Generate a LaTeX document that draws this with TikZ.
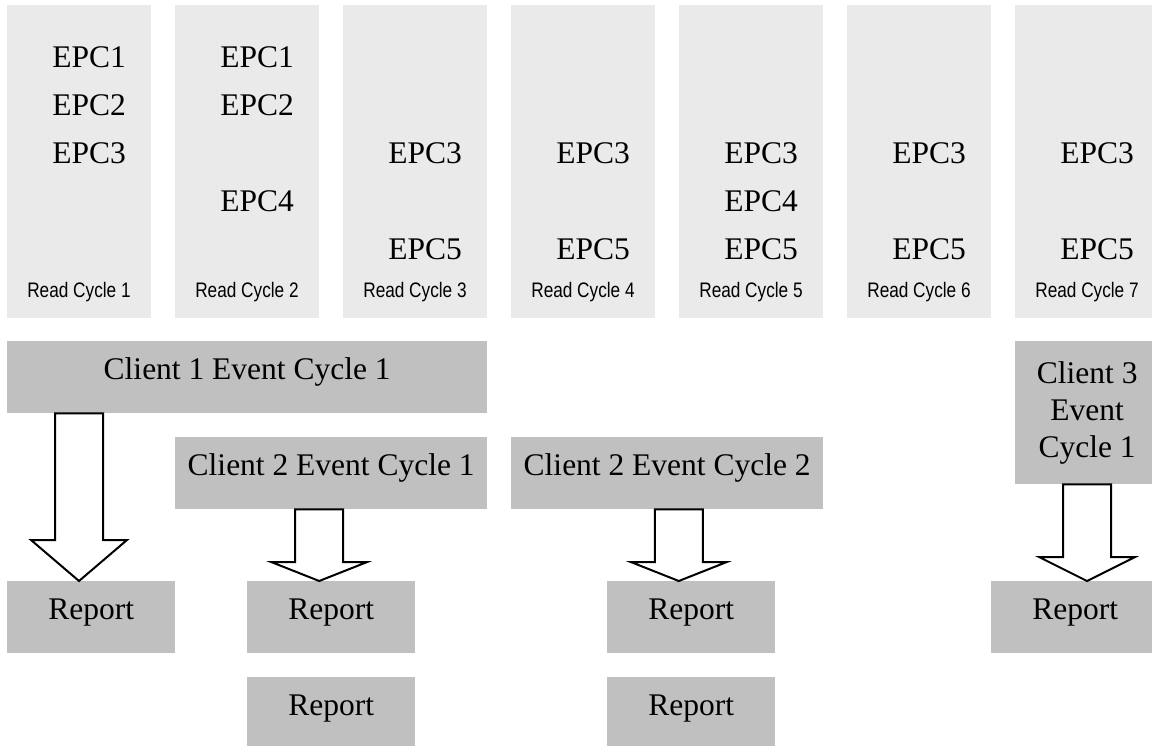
\documentclass[tikz,border=0pt]{standalone}
\usepackage{fontspec}
\setmainfont{Liberation Serif}
\newfontfamily\narrowsans[FakeStretch=0.82]{Liberation Sans}
\usetikzlibrary{calc,positioning}
\definecolor{RfidLight}{RGB}{234,234,234}
\definecolor{RfidGray}{RGB}{192,192,192}
\newcommand{\tagfont}{\fontsize{31.5}{37}\selectfont}
\newcommand{\cyclefont}{\narrowsans\fontsize{21}{25}\selectfont}
\tikzset{
  rfid/col/.style={
    fill=RfidLight,
    draw=none,
    minimum width=144pt,
    minimum height=313pt,
    inner sep=0pt
  },
  rfid/tag/.style={anchor=base east, inner sep=0pt, font=\tagfont},
  rfid/cycle/.style={anchor=base, inner sep=0pt, font=\cyclefont},
  rfid/box/.style={
    fill=RfidGray,
    anchor=north west,
    inner sep=0pt,
    text height=38pt,
    text depth=34pt,
    font=\tagfont
  },
  rfid/tallbox/.style={
    fill=RfidGray,
    anchor=north west,
    inner sep=0pt,
    minimum width=144pt,
    minimum height=143pt,
    align=center,
    font=\tagfont
  },
  rfid/fat/.style={draw=black, fill=white, line width=2pt, line join=miter}
}
% hollow block arrow: column ref, source node, target node, head length
\newcommand{\fatarrow}[4]{%
  \path (#1 |- #2.south) coordinate (fa-top) (#1 |- #3.north) coordinate (fa-tip);
  \draw[rfid/fat] ($(fa-top)+(-24,0)$) -- ($(fa-tip)+(-24,-#4)$) -- ($(fa-tip)+(-48,-#4)$)
    -- (fa-tip) -- ($(fa-tip)+(48,-#4)$) -- ($(fa-tip)+(24,-#4)$) -- ($(fa-top)+(24,0)$) -- cycle;
}

\begin{document}
\begin{tikzpicture}[x=1pt,y=-1pt]
  \useasboundingbox (0,0) rectangle (1152,746);
  % read cycles
  \foreach \i in {1,...,7}{
    \node[rfid/col] (rc\i) at ({79+168*(\i-1)},161.5) {};
    \node[rfid/cycle] (rl\i) at ({79+168*(\i-1)},298) {Read Cycle \i};
  }
  \foreach \c/\tags in {1/{1,2,3},2/{1,2,4},3/{3,5},4/{3,5},5/{3,4,5},6/{3,5},7/{3,5}}{
    \foreach \k in \tags {\node[rfid/tag] (e\c-\k) at ({126+168*(\c-1)},{68+48*(\k-1)}) {EPC\k};}
  }
  % event cycles
  \node[rfid/box,minimum width=480pt] (c1) at (7,341) {Client 1 Event Cycle 1};
  \node[rfid/box,minimum width=312pt] (c2) at (175,437) {Client 2 Event Cycle 1};
  \node[rfid/box,minimum width=312pt] (c3) at (511,437) {Client 2 Event Cycle 2};
  \node[rfid/tallbox] (c4) at (1015,341) {Client 3\\Event\\Cycle 1};
  % reports
  \node[rfid/box,minimum width=168pt] (r1) at (7,581) {Report};
  \node[rfid/box,minimum width=168pt] (r2) at (247,581) {Report};
  \node[rfid/box,minimum width=168pt] (r3) at (247,677) {Report};
  \node[rfid/box,minimum width=168pt] (r4) at (607,581) {Report};
  \node[rfid/box,minimum width=168pt] (r5) at (607,677) {Report};
  \node[rfid/box,minimum width=168pt] (r6) at (991,581) {Report};
  \fatarrow{rc1}{c1}{r1}{41}
  \fatarrow{rc2.east}{c2}{r2}{19}
  \fatarrow{rc5.west}{c3}{r4}{19}
  \fatarrow{rc7}{c4}{r6}{24}
\end{tikzpicture}
\end{document}
